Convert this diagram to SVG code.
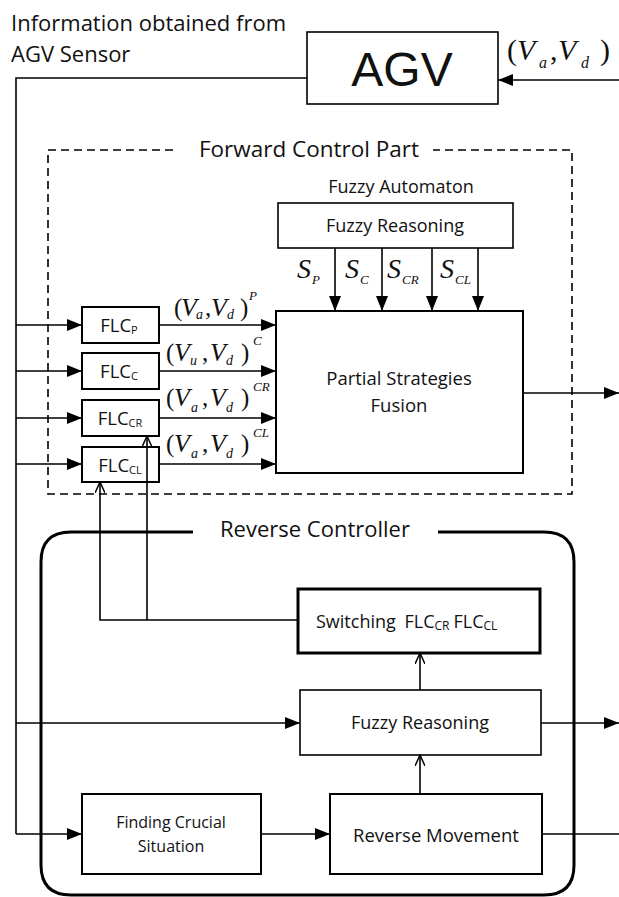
<svg xmlns="http://www.w3.org/2000/svg" width="619" height="897" viewBox="0 0 619 897">
<style>
.box{fill:none;stroke:#000;stroke-width:1.6}
.box2{fill:none;stroke:#000;stroke-width:2}
.ln{fill:none;stroke:#000;stroke-width:1.6}
.t{font-family:"Open Sans","Liberation Sans",sans-serif;fill:#111}
.m{font-family:"Liberation Serif","Times New Roman",serif;fill:#111}
.i{font-style:italic}
</style>
<defs>
<marker id="fa" viewBox="0 0 15 12" refX="15" refY="6" markerWidth="15" markerHeight="12" markerUnits="userSpaceOnUse" orient="auto"><path d="M0,0 L15,6 L0,12 z" fill="#000"/></marker>
<marker id="oa" viewBox="0 0 12 10" refX="11" refY="5" markerWidth="12" markerHeight="10" markerUnits="userSpaceOnUse" orient="auto"><path d="M0,0 L11,5 L0,10" fill="none" stroke="#000" stroke-width="1.5"/></marker>
</defs>
<rect width="619" height="897" fill="#fff"/>

<text class="t" x="11" y="31" font-size="22">Information obtained from</text>
<text class="t" x="11" y="62" font-size="22">AGV Sensor</text>

<g id="agv">
<rect class="box" x="307" y="32" width="191" height="72"/>
<text x="402" y="86" font-family="Liberation Sans,Arial,sans-serif" font-size="48" text-anchor="middle" fill="#111">AGV</text>
</g>
<g id="agv-input-label" class="m">
<text x="507" y="60" font-size="30">(</text>
<text x="517" y="60" font-size="30" class="i">V</text>
<text x="539" y="68" font-size="16" class="i">a</text>
<text x="550" y="60" font-size="30">,</text>
<text x="558" y="60" font-size="30" class="i">V</text>
<text x="581" y="68" font-size="16" class="i">d</text>
<text x="600" y="60" font-size="30">)</text>
</g>

<g id="forward-part">
<path d="M173,150 H48 V494 H572 V150 H433" fill="none" stroke="#000" stroke-width="1.6" stroke-dasharray="8,5"/>
<text class="t" x="309" y="157" font-size="22.5" text-anchor="middle">Forward Control Part</text>
</g>

<text class="t" x="401" y="193" font-size="18" text-anchor="middle">Fuzzy Automaton</text>
<g id="fuzzy-reasoning-top">
<rect class="box" x="278" y="203" width="235" height="45"/>
<text class="t" x="395" y="232" font-size="18" text-anchor="middle">Fuzzy Reasoning</text>
</g>

<g id="fusion">
<rect class="box2" x="276" y="311" width="247" height="162"/>
<text class="t" x="399" y="385" font-size="18.5" text-anchor="middle">Partial Strategies</text>
<text class="t" x="399" y="412" font-size="18.5" text-anchor="middle">Fusion</text>
</g>

<g id="flc-p"><rect class="box2" x="82" y="307" width="77" height="36"/><text class="t" x="119" y="332" font-size="18.5" text-anchor="middle">FLC<tspan font-size="11" dy="2">P</tspan></text></g>
<g id="flc-c"><rect class="box2" x="82" y="353" width="77" height="36"/><text class="t" x="119" y="378" font-size="18.5" text-anchor="middle">FLC<tspan font-size="11" dy="2">C</tspan></text></g>
<g id="flc-cr"><rect class="box2" x="82" y="400" width="77" height="36"/><text class="t" x="120" y="425" font-size="18.5" text-anchor="middle">FLC<tspan font-size="11" dy="2">CR</tspan></text></g>
<g id="flc-cl"><rect class="box2" x="82" y="447" width="77" height="35"/><text class="t" x="120" y="472" font-size="18.5" text-anchor="middle">FLC<tspan font-size="11" dy="2">CL</tspan></text></g>

<g id="reverse-controller">
<path d="M193,532 H71 Q41,532 41,562 V865 Q41,895 71,895 H544 Q574,895 574,865 V562 Q574,532 544,532 H438" fill="none" stroke="#000" stroke-width="3"/>
<text class="t" x="315" y="537" font-size="22" text-anchor="middle">Reverse Controller</text>
</g>

<g id="switching">
<rect x="298" y="589" width="242" height="64" fill="none" stroke="#000" stroke-width="3"/>
<text class="t" x="316" y="628" font-size="18">Switching <tspan dx="4">FLC</tspan><tspan font-size="12" dy="2">CR</tspan><tspan dx="4" dy="-2">FLC</tspan><tspan font-size="12" dy="2">CL</tspan></text>
</g>

<g id="fuzzy-reasoning-rev">
<rect class="box" x="300" y="690" width="241" height="65"/>
<text class="t" x="420" y="729" font-size="18" text-anchor="middle">Fuzzy Reasoning</text>
</g>

<g id="finding">
<rect class="box2" x="82" y="794" width="179" height="80"/>
<text class="t" x="171" y="828" font-size="16" text-anchor="middle">Finding Crucial</text>
<text class="t" x="171" y="852" font-size="16" text-anchor="middle">Situation</text>
</g>

<g id="reverse-movement">
<rect class="box2" x="330" y="794" width="212" height="80"/>
<text class="t" x="436" y="842" font-size="18.5" text-anchor="middle">Reverse Movement</text>
</g>

<g id="connectors">
<path class="ln" d="M619,80 H498" marker-end="url(#fa)"/>
<path class="ln" d="M307,78 H16 V834" stroke-width="2"/>
<path class="ln" d="M16,325 H82" marker-end="url(#fa)"/>
<path class="ln" d="M16,371 H82" marker-end="url(#fa)"/>
<path class="ln" d="M16,418 H82" marker-end="url(#fa)"/>
<path class="ln" d="M16,464 H82" marker-end="url(#fa)"/>
<path class="ln" d="M159,325 H276" marker-end="url(#fa)"/>
<path class="ln" d="M159,371 H276" marker-end="url(#fa)"/>
<path class="ln" d="M159,418 H276" marker-end="url(#fa)"/>
<path class="ln" d="M159,464 H276" marker-end="url(#fa)"/>
<path class="ln" d="M335,248 V311" stroke-width="2" marker-end="url(#fa)"/>
<path class="ln" d="M382,248 V311" stroke-width="2" marker-end="url(#fa)"/>
<path class="ln" d="M432,248 V311" stroke-width="2" marker-end="url(#fa)"/>
<path class="ln" d="M478,248 V311" stroke-width="2" marker-end="url(#fa)"/>
<path class="ln" d="M523,393 H619" marker-end="url(#fa)"/>
<path class="ln" d="M298,620 H100 V482" marker-end="url(#oa)"/>
<path class="ln" d="M147,620 V436" marker-end="url(#oa)"/>
<path class="ln" d="M420,690 V653" marker-end="url(#oa)"/>
<path class="ln" d="M420,794 V755" marker-end="url(#oa)"/>
<path class="ln" d="M16,723 H300" marker-end="url(#fa)"/>
<path class="ln" d="M541,723 H619" marker-end="url(#fa)"/>
<path class="ln" d="M16,834 H82" marker-end="url(#fa)"/>
<path class="ln" d="M261,834 H330" marker-end="url(#fa)"/>
<path class="ln" d="M542,834 H619"/>
</g>

<g id="strategy-labels" class="m">
<text x="297" y="278" font-size="28" class="i">S</text><text x="312" y="284" font-size="13" class="i">P</text>
<text x="345" y="278" font-size="28" class="i">S</text><text x="360" y="284" font-size="13" class="i">C</text>
<text x="387" y="278" font-size="28" class="i">S</text><text x="402" y="284" font-size="13" class="i">CR</text>
<text x="440" y="278" font-size="28" class="i">S</text><text x="455" y="284" font-size="13" class="i">CL</text>
</g>

<g id="flc-output-labels" class="m">
<text x="174" y="316" font-size="25">(</text><text x="181" y="316" font-size="26" class="i">V</text><text x="196" y="319" font-size="14" class="i">a</text><text x="205" y="316" font-size="25">,</text><text x="211" y="316" font-size="26" class="i">V</text><text x="227" y="319" font-size="14" class="i">d</text><text x="240" y="316" font-size="25">)</text><text x="249" y="300" font-size="13" class="i">P</text>
<text x="166" y="361" font-size="25">(</text><text x="174" y="361" font-size="26" class="i">V</text><text x="190" y="365" font-size="14" class="i">u</text><text x="202" y="361" font-size="25">,</text><text x="210" y="361" font-size="26" class="i">V</text><text x="226" y="365" font-size="14" class="i">d</text><text x="241" y="361" font-size="25">)</text><text x="253" y="345" font-size="13" class="i">C</text>
<text x="166" y="406" font-size="25">(</text><text x="174" y="406" font-size="26" class="i">V</text><text x="191" y="412" font-size="14" class="i">a</text><text x="202" y="406" font-size="25">,</text><text x="210" y="406" font-size="26" class="i">V</text><text x="226" y="412" font-size="14" class="i">d</text><text x="241" y="406" font-size="25">)</text><text x="253" y="391" font-size="13" class="i">CR</text>
<text x="166" y="452" font-size="25">(</text><text x="174" y="452" font-size="26" class="i">V</text><text x="191" y="458" font-size="14" class="i">a</text><text x="202" y="452" font-size="25">,</text><text x="210" y="452" font-size="26" class="i">V</text><text x="226" y="458" font-size="14" class="i">d</text><text x="241" y="452" font-size="25">)</text><text x="253" y="437" font-size="13" class="i">CL</text>
</g>
</svg>
